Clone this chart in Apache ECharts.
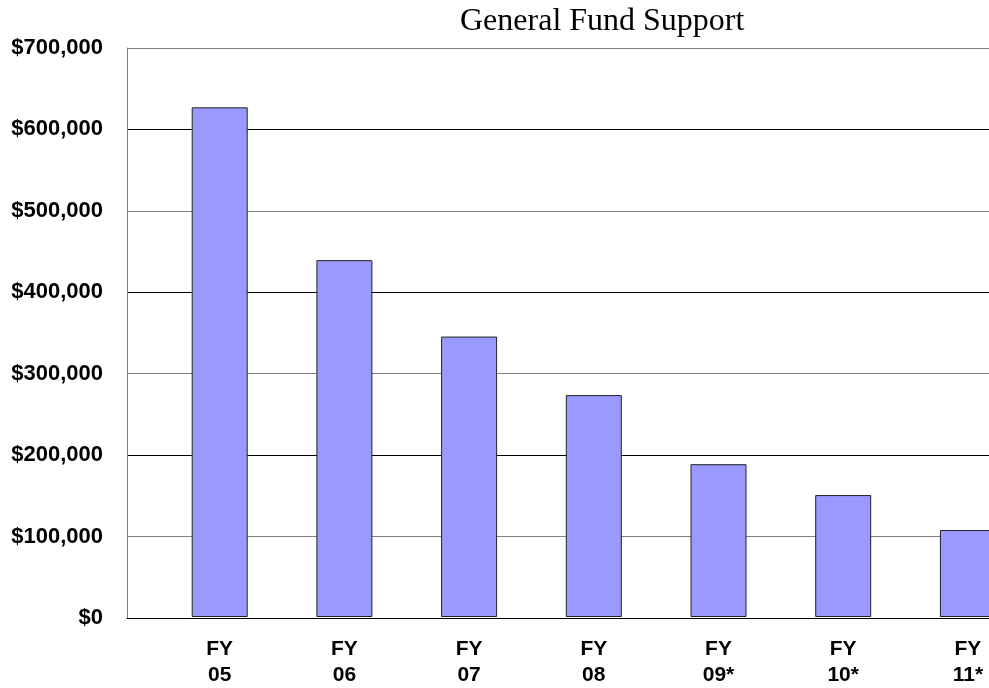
<!DOCTYPE html>
<html>
<head>
<meta charset="utf-8">
<script src="https://cdn.jsdelivr.net/npm/echarts@6/dist/echarts.min.js"></script>
<style>
html,body{margin:0;padding:0;background:#fff;overflow:hidden;width:989px;height:688px;}
#chart{width:1031px;height:688px;}
</style>
</head>
<body>
<div id="chart"></div>
<script>
const chartTitle = 'General Fund Support';
const categories = ['FY\n05', 'FY\n06', 'FY\n07', 'FY\n08', 'FY\n09*', 'FY\n10*', 'FY\n11*'];
const fundSupport = [627000, 439000, 345000, 273000, 188000, 150000, 107000];
const yMin = 0;
const yMax = 700000;
const yStep = 100000;

const chart = echarts.init(document.getElementById('chart'), null, {renderer: 'canvas'});
const labelFont = {fontFamily: 'Liberation Sans, Arial, sans-serif', fontWeight: 'bold', fontSize: 21, color: '#000'};

chart.setOption({
  animation: false,
  backgroundColor: '#fff',
  title: {
    text: chartTitle,
    left: 460,
    top: 6,
    padding: 0,
    textStyle: {fontFamily: 'Liberation Serif, Times New Roman, serif', fontWeight: 'normal', fontSize: 32, color: '#000'}
  },
  grid: [
    {left: 127, right: 42, top: 48, bottom: 70},
    {left: 157.35, right: 0.75, top: 48, bottom: 70}
  ],
  xAxis: [
    {
      gridIndex: 0, type: 'value', min: 0, max: 1,
      axisLine: {show: true, lineStyle: {color: '#000', width: 1}},
      axisTick: {show: false}, axisLabel: {show: false}, splitLine: {show: false}
    },
    {
      gridIndex: 1, type: 'category', data: categories,
      axisLine: {show: false}, axisTick: {show: false}, splitLine: {show: false},
      axisLabel: Object.assign({interval: 0, margin: 19, lineHeight: 26, align: 'center'}, labelFont)
    }
  ],
  yAxis: [
    {
      gridIndex: 0, type: 'value', min: yMin, max: yMax, interval: yStep,
      axisLine: {show: true, lineStyle: {color: '#808080', width: 1}},
      axisTick: {show: false},
      axisLabel: Object.assign({}, labelFont, {fontSize: 22, margin: 24, formatter: v => '$' + v.toLocaleString('en-US')}),
      splitLine: {show: true, lineStyle: {color: ['#000', '#808080'], width: 1}}
    },
    {
      gridIndex: 1, type: 'value', min: yMin, max: yMax, interval: yStep,
      show: false, splitLine: {show: false}
    }
  ],
  series: [
    {
      type: 'bar',
      xAxisIndex: 1, yAxisIndex: 1,
      data: fundSupport,
      barWidth: 56,
      itemStyle: {color: '#9999FF', borderColor: '#222', borderWidth: 1}
    }
  ]
});
</script>
</body>
</html>
